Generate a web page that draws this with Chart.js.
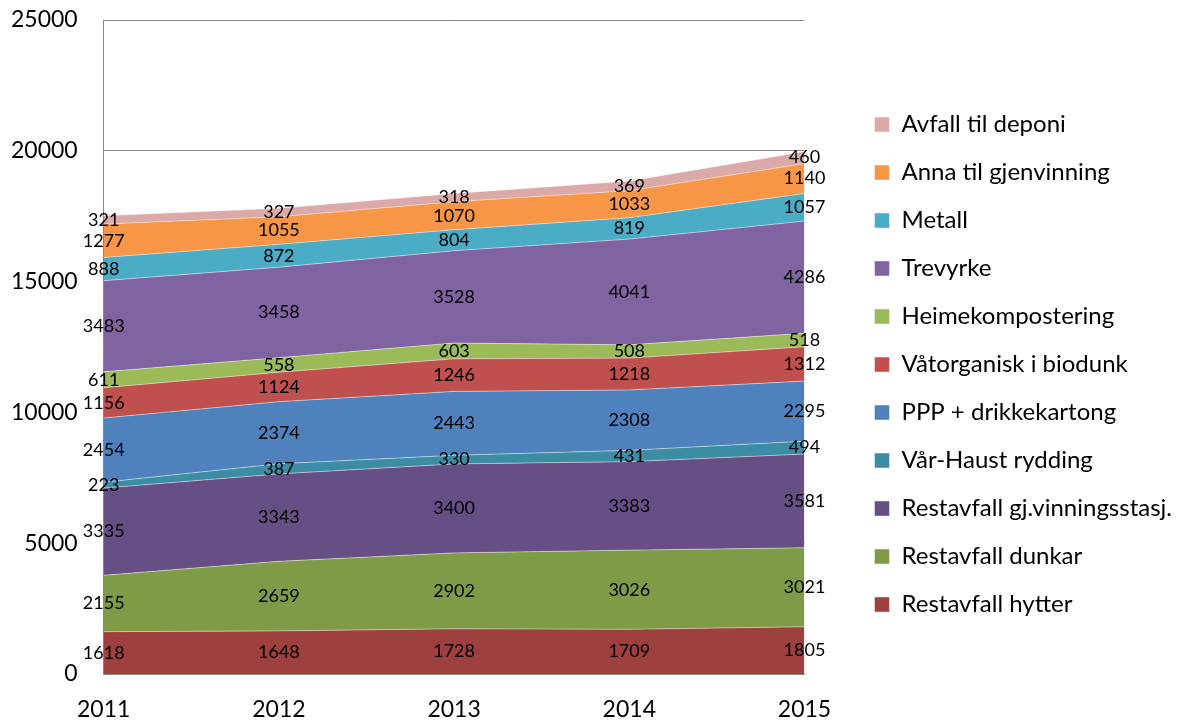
<!DOCTYPE html>
<html>
<head>
<meta charset="utf-8">
<script src="https://cdn.jsdelivr.net/npm/chart.js@4"></script>
<style>
  html, body { margin: 0; padding: 0; background: #fff; }
  #wrap { width: 1182px; height: 721px; }
</style>
</head>
<body>
<div id="wrap"><canvas id="myChart" width="1182" height="721"></canvas></div>
<script>
// years on the x axis
var years = ['2011', '2012', '2013', '2014', '2015'];

// one array per series, bottom of the stack first
var restHytter = [1618, 1648, 1728, 1709, 1805];
var restDunkar = [2155, 2659, 2902, 3026, 3021];
var restStasj = [3335, 3343, 3400, 3383, 3581];
var vaarHaust = [223, 387, 330, 431, 494];
var pppKartong = [2454, 2374, 2443, 2308, 2295];
var vaatorganisk = [1156, 1124, 1246, 1218, 1312];
var heimekompost = [611, 558, 603, 508, 518];
var trevyrke = [3483, 3458, 3528, 4041, 4286];
var metall = [888, 872, 804, 819, 1057];
var annaGjenv = [1277, 1055, 1070, 1033, 1140];
var deponi = [321, 327, 318, 369, 460];

var yTicks = [0, 5000, 10000, 15000, 20000, 25000];

var series = [
    ['Restavfall hytter', restHytter, '#9E413E'],
    ['Restavfall dunkar', restDunkar, '#7F9B48'],
    ['Restavfall gj.vinningsstasj.', restStasj, '#664F85'],
    ['Vår-Haust rydding', vaarHaust, '#3C8DA3'],
    ['PPP + drikkekartong', pppKartong, '#4F81BD'],
    ['Våtorganisk i biodunk', vaatorganisk, '#C0504D'],
    ['Heimekompostering', heimekompost, '#9BBB59'],
    ['Trevyrke', trevyrke, '#8064A2'],
    ['Metall', metall, '#4BACC6'],
    ['Anna til gjenvinning', annaGjenv, '#F79646'],
    ['Avfall til deponi', deponi, '#DBA9A8']
];

var datasets = series.map(function (s, i) {
    return {
        label: s[0],
        data: s[1],
        backgroundColor: s[2],
        borderColor: 'rgba(255,255,255,0.45)',
        borderWidth: 1,
        pointRadius: 0,
        pointHoverRadius: 0,
        tension: 0,
        fill: i === 0 ? 'origin' : '-1'
    };
});

// writes each value in the middle of its band
const bandLabels = {
    id: 'bandLabels',
    afterDatasetsDraw(chart) {
        const ctx = chart.ctx;
        const xs = chart.scales.x, ys = chart.scales.y;
        ctx.save();
        ctx.font = '18px Lato';
        ctx.fillStyle = '#000';
        ctx.textAlign = 'center';
        ctx.textBaseline = 'middle';
        for (var j = 0; j < years.length; j++) {
            var cum = 0;
            chart.data.datasets.forEach(function (ds) {
                var v = ds.data[j];
                cum += v;
                ctx.fillText(String(v), xs.getPixelForValue(j), ys.getPixelForValue(cum - v / 2));
            });
        }
        ctx.restore();
    }
};

// nudge the legend up a bit
const liftLegend = {
    id: 'liftLegend',
    afterLayout(chart) {
        chart.legend.top -= 6;
        chart.legend.bottom -= 6;
    }
};

const GRAPH = document.getElementById('myChart');
const areaChart = new Chart(GRAPH, {
    type: 'line',
    data: { labels: years, datasets: datasets },
    plugins: [bandLabels, liftLegend],
    options: {
        responsive: false,
        animation: false,
        layout: { padding: { left: 8, top: 20, right: 0, bottom: 0 } },
        plugins: {
            tooltip: { enabled: false },
            legend: {
                position: 'right',
                reverse: true,
                maxWidth: 420,
                labels: {
                    boxWidth: 15,
                    boxHeight: 15,
                    padding: 24,
                    color: '#000',
                    font: { family: 'Lato', size: 24 }
                }
            }
        },
        scales: {
            x: {
                offset: false,
                grid: { display: false, drawTicks: true, tickLength: 24 },
                border: { display: true, color: '#868686', width: 1 },
                ticks: { color: '#000', font: { family: 'Lato', size: 23, lineHeight: 1 }, padding: 0, maxRotation: 0 }
            },
            y: {
                stacked: true,
                min: 0,
                max: 25000,
                afterBuildTicks: function (s) { s.ticks = yTicks.map(function (v) { return { value: v }; }); },
                grid: { color: '#868686', drawTicks: true, tickLength: 23, tickColor: 'rgba(0,0,0,0)' },
                border: { display: true, color: '#868686' },
                ticks: {
                    color: '#000',
                    font: { family: 'Lato', size: 23 },
                    padding: 3,
                    callback: function (v) { return String(v); }
                }
            },
            gap: {
                // empty axis on the right, keeps room between plot and legend
                position: 'right',
                display: true,
                grid: { display: false },
                border: { display: false },
                ticks: { display: false },
                afterFit: function (s) { s.width = 46; }
            }
        }
    }
});
</script>
</body>
</html>
